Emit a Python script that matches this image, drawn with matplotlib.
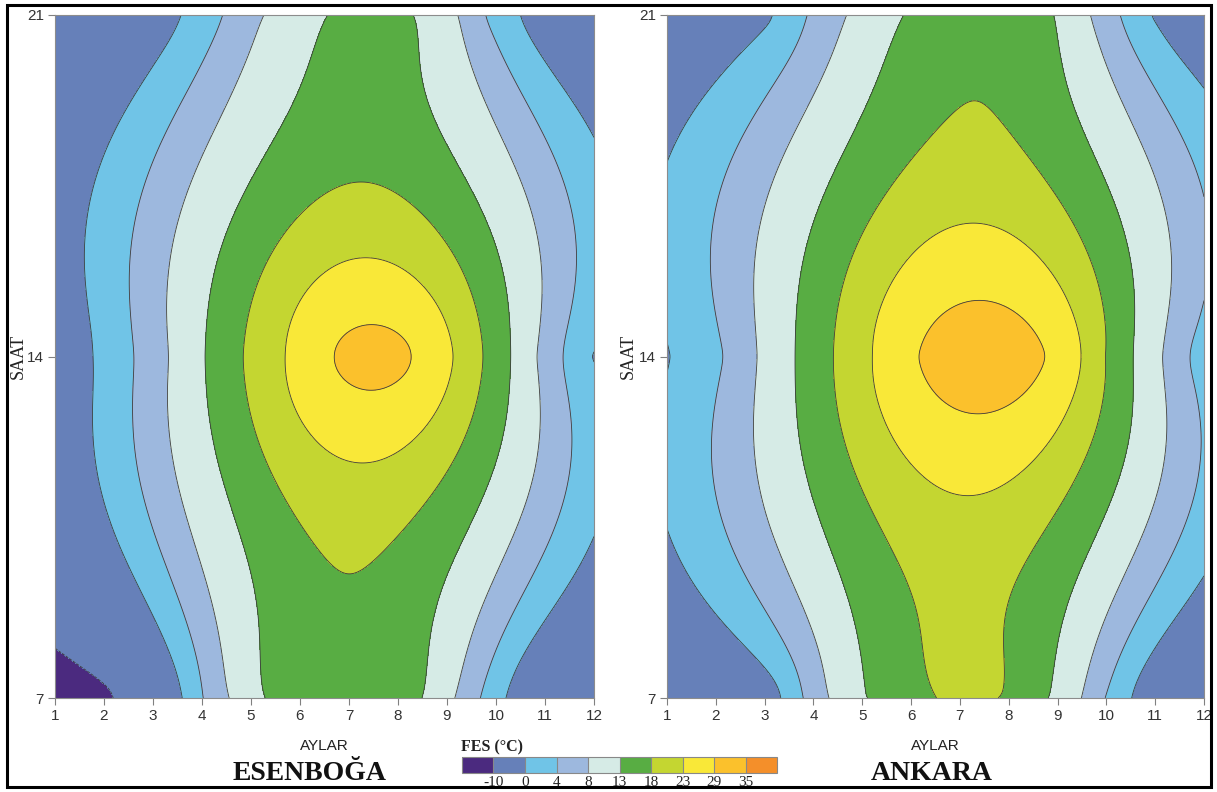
import numpy as np
import matplotlib
matplotlib.use('Agg')
import matplotlib.pyplot as plt
from matplotlib.patches import Rectangle

# Grid: months x observation hours
months = np.arange(1, 13)
hours = [7, 14, 21]
month_labels = [str(m) for m in months]
levels = [-10, 0, 4, 8, 13, 18, 23, 29, 35]
fill_colors = ['#4b2a7f', '#6680b9', '#70c4e7', '#9db8de', '#d6ebe6',
               '#58ad43', '#c4d631', '#f9e838', '#fbc12c', '#f48f2a']

# FES (°C), one list per hour
esenboga_07 = [-12.0, -11.0, -5.7, 3.8, 11.3, 17.0, 16.8, 16.5, 9.2, 1.5, -6.0, -9.0]
esenboga_14 = [-3.7, 1.1, 5.9, 12.6, 19.0, 24.7, 30.8, 30.8, 24.0, 15.8, 6.5, -0.2]
esenboga_21 = [-7.0, -5.0, -2.5, 1.8, 6.9, 10.9, 14.5, 14.5, 9.5, 2.5, -2.6, -6.0]

ankara_07 = [-5.0, -4.0, -2.9, 5.8, 12.6, 16.1, 19.6, 17.5, 11.9, 3.8, -3.6, -8.0]
ankara_14 = [-0.2, 3.2, 8.9, 15.5, 21.6, 28.3, 32.5, 32.3, 27.8, 17.8, 9.1, 2.0]
ankara_21 = [-4.0, -2.5, -0.9, 4.7, 9.5, 13.6, 17.2, 17.0, 12.6, 5.7, -0.4, -4.0]

W, H = 1217, 792
SANS = 'Liberation Sans'
SERIF = 'Liberation Serif'


def krige_grid(rows, n=400):
    # ordinary kriging, linear variogram (the usual gridding default)
    px, py = np.meshgrid(months, hours)
    px, py = px.ravel().astype(float), py.ravel().astype(float)
    z = np.array(rows, dtype=float).ravel()
    m = len(z)
    d = np.hypot(px[:, None] - px[None, :], py[:, None] - py[None, :])
    A = np.zeros((m + 1, m + 1))
    A[:m, :m] = d
    A[:m, m] = 1
    A[m, :m] = 1
    w = np.linalg.solve(A, np.append(z, 0.0))
    gx, gy = np.meshgrid(np.linspace(1, 12, n), np.linspace(7, 21, n))
    dist = np.hypot(gx[..., None] - px, gy[..., None] - py)
    return gx, gy, dist @ w[:m] + w[m]


def draw_panel(ax, rows):
    gx, gy, gz = krige_grid(rows)
    cs = ax.contourf(gx, gy, gz, levels=levels, colors=fill_colors, extend='both')
    ax.contour(gx, gy, gz, levels=levels, colors='#3c3c3c', linewidths=0.6)
    ax.set_xlim(1, 12)
    ax.set_ylim(7, 21)
    ax.set_xticks(months)
    ax.set_xticklabels(month_labels)
    ax.set_yticks(hours)
    ax.tick_params(direction='out', length=5, width=0.8, color='#808080',
                   labelsize=11, labelcolor='#333333', pad=3)
    for lab in ax.get_xticklabels() + ax.get_yticklabels():
        lab.set_fontfamily(SANS)
    for sp in ax.spines.values():
        sp.set_color('#8c8c8c')
        sp.set_linewidth(0.8)
    return cs


fig = plt.figure(figsize=(W / 100, H / 100), dpi=100)

ax1 = fig.add_axes([55 / W, 1 - 698 / H, 539 / W, 683 / H])
ax2 = fig.add_axes([667 / W, 1 - 698 / H, 537 / W, 683 / H])

cs = draw_panel(ax1, [esenboga_07, esenboga_14, esenboga_21])
draw_panel(ax2, [ankara_07, ankara_14, ankara_21])

# axis labels and station names
for xc, sx in [(324, 18), (935, 628)]:
    fig.text(xc / W, 1 - 746 / H, 'AYLAR', ha='center', va='center',
             fontsize=11, family=SANS, color='#222222')
    fig.text(sx / W, 1 - 356 / H, 'SAAT', ha='center', va='center', rotation=90,
             fontsize=13, family=SERIF, color='#222222')
fig.text(310 / W, 1 - 774 / H, 'ESENBOĞA', ha='center', va='center',
         fontsize=20, family=SERIF, fontweight='bold', color='#111111')
fig.text(932 / W, 1 - 774 / H, 'ANKARA', ha='center', va='center',
         fontsize=20, family=SERIF, fontweight='bold', color='#111111')

# colour key
cax = fig.add_axes([462 / W, 1 - 773 / H, 315 / W, 16 / H])
cb = fig.colorbar(cs, cax=cax, orientation='horizontal', spacing='uniform',
                  extendrect=True, extendfrac=0.125, drawedges=True, ticks=levels)
cb.outline.set_edgecolor('#888888')
cb.outline.set_linewidth(0.8)
cb.dividers.set_color('#888888')
cb.dividers.set_linewidth(0.8)
cax.tick_params(length=0, pad=2, labelsize=11)
cax.set_xticklabels([str(v) for v in levels])
for lab in cax.get_xticklabels():
    lab.set_fontfamily(SERIF)
    lab.set_color('#222222')
fig.text(461 / W, 1 - 747 / H, 'FES (°C)', ha='left', va='center',
         fontsize=11.5, family=SERIF, fontweight='bold', color='#222222')

# frame around the whole figure
fig.add_artist(Rectangle((7 / W, 1 - 787 / H), 1204 / W, 782 / H,
                         transform=fig.transFigure, fill=False,
                         edgecolor='black', linewidth=2.2, zorder=10))

fig.savefig('out.png', dpi=100)
